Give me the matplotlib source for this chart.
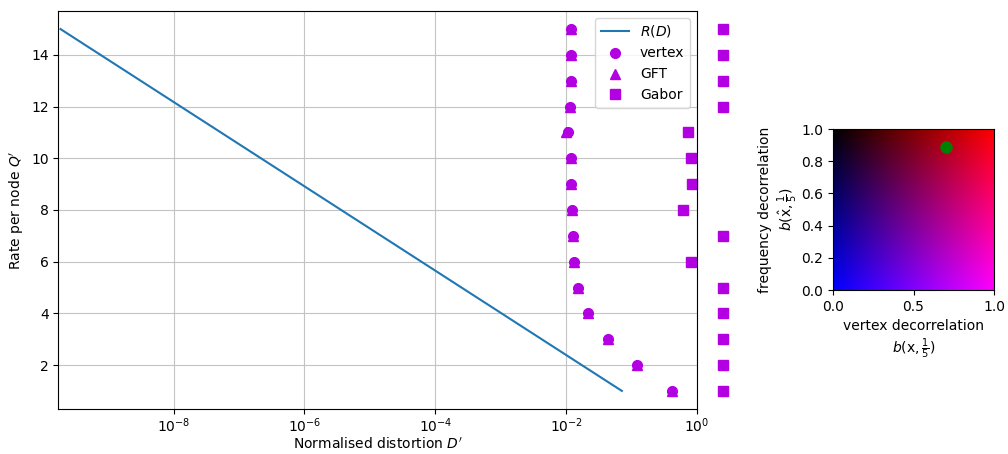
import numpy as np
import matplotlib.pyplot as plt

# rate per node (bits)
rates = [15, 14, 13, 12, 11, 10, 9, 8, 7, 6, 5, 4, 3, 2, 1]

# normalised distortion for each coding scheme
d_vertex = [0.0117, 0.0118, 0.0117, 0.0116, 0.0108, 0.0118, 0.0118, 0.0121,
            0.0126, 0.0132, 0.0151, 0.0218, 0.0436, 0.120, 0.410]
d_gft = [0.0117, 0.0118, 0.0117, 0.0116, 0.0099, 0.0118, 0.0118, 0.0121,
         0.0126, 0.0132, 0.0151, 0.0218, 0.0436, 0.120, 0.410]
d_gabor = [2.47, 2.47, 2.47, 2.47, 0.736, 0.80, 0.83, 0.604,
           2.47, 0.81, 2.47, 2.47, 2.47, 2.47, 2.47]

# rate-distortion bound, straight line in log-distortion
rd_rate = [15, 1]
rd_dist = [1.87e-10, 0.0712]

# decorrelation of the chosen transform
b_vertex = 0.7
b_freq = 0.89

marker_col = (b_vertex, 0.0, b_freq)

fig = plt.figure(figsize=(10.08, 4.54), dpi=100)
ax = fig.add_axes([0.058, 0.0991, 0.6334, 0.8767])

ax.plot(rd_dist, rd_rate, color='tab:blue', label='$R(D)$')
ax.plot(d_vertex, rates, 'o', ls='none', color=marker_col, ms=7,
        clip_on=False, label='vertex')
ax.plot(d_gft, rates, '^', ls='none', color=marker_col, ms=7,
        clip_on=False, label='GFT')
ax.plot(d_gabor, rates, 's', ls='none', color=marker_col, ms=6.5,
        clip_on=False, label='Gabor')

ax.set_xscale('log')
ax.set_xlim(1.74e-10, 1)
ax.set_ylim(0.3, 15.7)
ax.set_xticks([1e-8, 1e-6, 1e-4, 1e-2, 1])
ax.set_yticks([2, 4, 6, 8, 10, 12, 14])
ax.minorticks_off()
ax.tick_params(axis='x', pad=2)
ax.grid(True, color='#c4c4c4', linewidth=0.8)
ax.set_xlabel("Normalised distortion $D'$", labelpad=1)
ax.set_ylabel("Rate per node $Q'$")
ax.legend(loc='upper right')

# colour square for the decorrelation pair
ax2 = fig.add_axes([0.8264, 0.3612, 0.1597, 0.3546])
gx, gy = np.meshgrid(np.linspace(0, 1, 200), np.linspace(0, 1, 200))
img = np.dstack([gx, np.zeros_like(gx), 1 - gy])
ax2.imshow(img, extent=[0, 1, 0, 1], origin='lower', aspect='auto')
ax2.plot([b_vertex], [b_freq], 'o', color='green', ms=8)
ax2.set_xlim(0, 1)
ax2.set_ylim(0, 1)
ax2.set_xticks([0, 0.5, 1])
ax2.set_xticklabels(['0.0', '0.5', '1.0'])
ax2.set_yticks([0, 0.2, 0.4, 0.6, 0.8, 1.0])
ax2.set_xlabel('vertex decorrelation\n' + r'$b(\mathrm{x},\frac{1}{5})$')
ax2.set_ylabel('frequency decorrelation\n' + r'$b(\hat{\mathrm{x}},\frac{1}{5})$',
               labelpad=1)

fig.savefig('out.png', dpi=100)
